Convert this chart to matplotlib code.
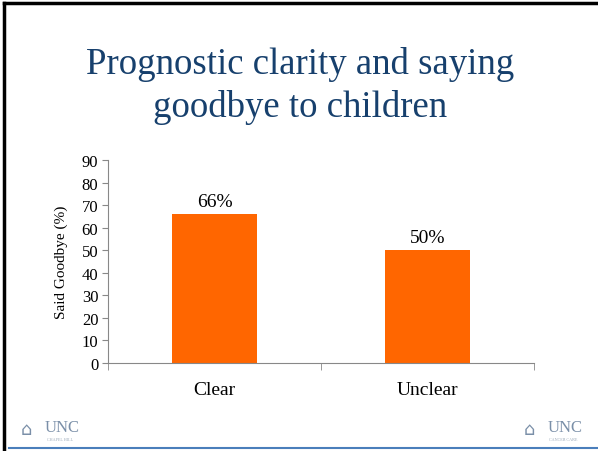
import numpy as np
import matplotlib
matplotlib.use("Agg")
import matplotlib.pyplot as plt
from matplotlib.lines import Line2D

categories = ["Clear", "Unclear"]
said_goodbye = [66, 50]
bar_labels = ["66%", "50%"]
yticks = list(range(0, 100, 10))

plt.rcParams["font.family"] = ["Liberation Serif", "DejaVu Serif"]

fig = plt.figure(figsize=(5.98, 4.52), dpi=100)

# slide frame
fig.add_artist(Line2D([0.007, 1.0], [0.991, 0.991], color="black", lw=2.5, transform=fig.transFigure))
fig.add_artist(Line2D([0.007, 0.007], [0.004, 0.991], color="black", lw=2.5, transform=fig.transFigure))
fig.add_artist(Line2D([0.015, 1.0], [0.006, 0.006], color="#4a7ebb", lw=1.5, transform=fig.transFigure))

fig.text(0.502, 0.81, "Prognostic clarity and saying\ngoodbye to children", ha="center", va="center",
         fontsize=26.5, color="#17406d", linespacing=1.3)

ax = fig.add_axes([0.1806, 0.1947, 0.7124, 0.449])
x = np.arange(len(categories))
ax.bar(x, said_goodbye, width=0.4, color="#ff6600")
for xi, v, lab in zip(x, said_goodbye, bar_labels):
    ax.text(xi, v + 2, lab, ha="center", va="bottom", fontsize=14)

ax.set_xlim(-0.5, 1.5)
ax.set_ylim(0, 90)
ax.set_yticks(yticks)
ax.set_xticks(x)
ax.set_xticklabels(categories, fontsize=14)
ax.set_xticks([-0.5, 0.5, 1.5], minor=True)
ax.tick_params(axis="x", which="major", length=0, pad=13)
ax.tick_params(axis="x", which="minor", length=5, color="#888888")
ax.tick_params(axis="y", length=4, color="#888888", labelsize=12, pad=3)
ax.set_ylabel("Said Goodbye (%)", fontsize=11, labelpad=10)
for s in ["top", "right"]:
    ax.spines[s].set_visible(False)
for s in ["left", "bottom"]:
    ax.spines[s].set_color("#888888")

# logos
for xpos, sub in [(0.075, "CHAPEL HILL"), (0.915, "CANCER CARE")]:
    fig.text(xpos, 0.036, "UNC", fontsize=12, color="#7a8fa8", ha="left", va="bottom")
    fig.text(xpos + 0.003, 0.022, sub, fontsize=3, color="#9aa8b8", ha="left", va="bottom")
    fig.text(xpos - 0.04, 0.028, "\u2302", fontsize=13, color="#7a8fa8", ha="left", va="bottom",
             family="DejaVu Sans")

fig.savefig("out.png", dpi=100)
